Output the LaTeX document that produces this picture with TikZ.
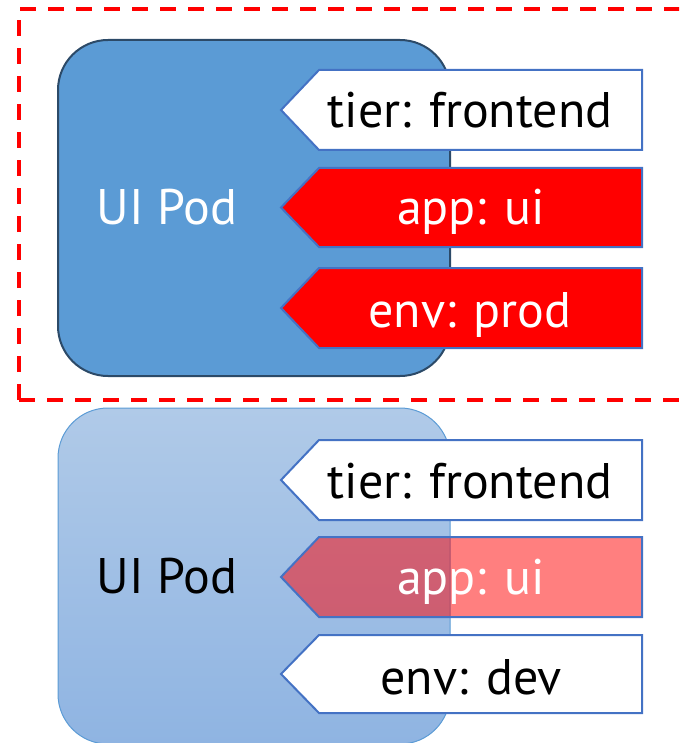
\documentclass[tikz,border=0pt]{standalone}
\usepackage{fontspec}
\setmainfont{PT Sans}
\definecolor{podblue}{HTML}{5B9BD5}
\definecolor{podedge}{HTML}{2C4A68}
\definecolor{podlighttop}{HTML}{B0CAE8}
\definecolor{podlightbot}{HTML}{8FB4E2}
\definecolor{tagedge}{HTML}{4472C4}
\tikzset{
  podsolid/.style={fill=podblue, draw=podedge, line width=2pt, rounded corners=50pt},
  podfaded/.style={top color=podlighttop, bottom color=podlightbot, draw=podblue, line width=1pt, rounded corners=50pt},
  tagwhite/.style={fill=white, draw=tagedge, line width=2pt, line join=miter},
  tagred/.style={fill=red, draw=tagedge, line width=2pt, line join=miter},
  tagpink/.style={fill=red, fill opacity=0.5, draw=tagedge, draw opacity=1, line width=2pt, line join=miter},
  podtext/.style={font=\fontsize{50}{56}\selectfont, inner sep=0pt, anchor=base},
  tagtext/.style={font=\fontsize{50}{56}\selectfont, inner sep=0pt, anchor=base},
  selbox/.style={draw=red, line width=4pt, dash pattern=on 16pt off 12pt}
}
% label tag pointing left: #1 top y, #2 bottom y, #3 style
\newcommand\podlabel[3]{%
  \path[#3] (281,{(#1+#2)/2}) -- (319,#1) -- (642,#1) -- (642,#2) -- (319,#2) -- cycle;}
\begin{document}
\begin{tikzpicture}[x=1pt,y=-1pt]
\useasboundingbox (0,0) rectangle (679,743);
\clip (0,0) rectangle (679,743);

% selected pod
\path[podsolid] (58,40) rectangle (450,376);
\node[podtext, text=white] (podA) at (167,225) {UI Pod};
\podlabel{70}{150}{tagwhite}
\node[tagtext] (tierA) at (470,128) {tier: frontend};
\podlabel{168}{247}{tagred}
\node[tagtext, text=white] (appA) at (471,225) {app: ui};
\podlabel{268}{348}{tagred}
\node[tagtext, text=white] (envA) at (470,327) {env: prod};

% selector boundary
\path[selbox] (19,400) -- (19,9) -- (720,9) (19,400) -- (720,400);

% other pod
\path[podfaded] (58,408) rectangle (450,744);
\node[podtext] (podB) at (167,593) {UI Pod};
\podlabel{440}{520}{tagwhite}
\node[tagtext] (tierB) at (470,498) {tier: frontend};
\podlabel{537}{617}{tagpink}
\node[tagtext, text=white] (appB) at (471,594) {app: ui};
\podlabel{635}{713}{tagwhite}
\node[tagtext] (envB) at (471,694) {env: dev};
\end{tikzpicture}
\end{document}
